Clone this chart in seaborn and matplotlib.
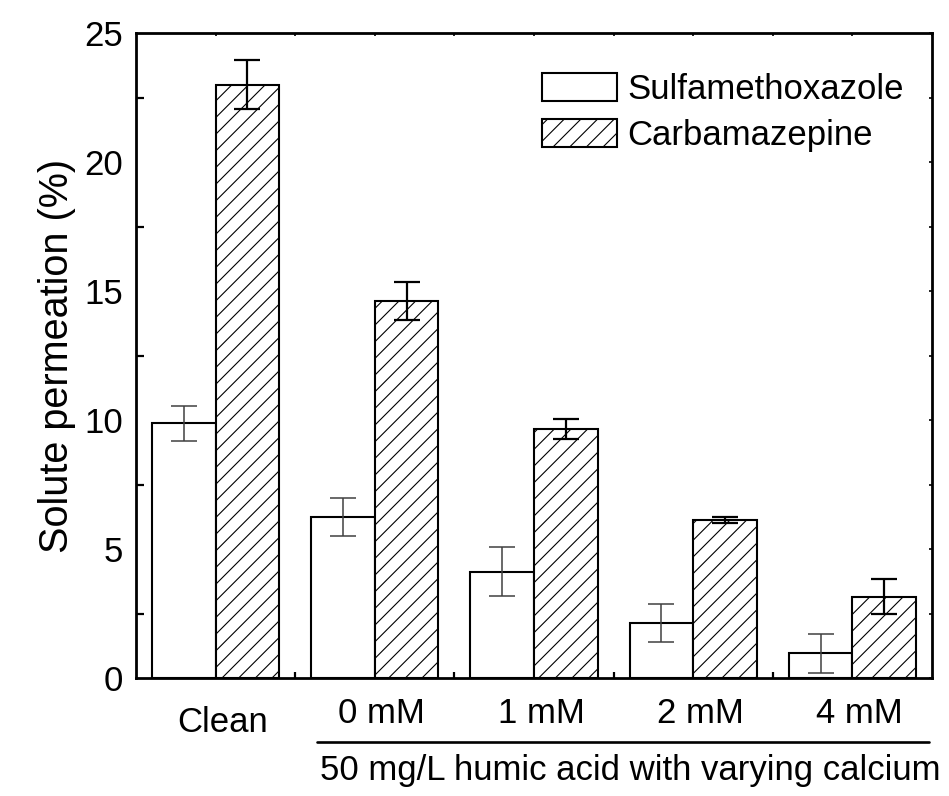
import numpy as np
import pandas as pd
import matplotlib
matplotlib.use("Agg")
import matplotlib.pyplot as plt
import matplotlib.transforms as mtransforms
import seaborn as sns

# Solute permeation through the membrane (%), mean and standard deviation
conditions = ["Clean", "0 mM", "1 mM", "2 mM", "4 mM"]
solutes = ["Sulfamethoxazole", "Carbamazepine"]
smx_mean = [9.88, 6.24, 4.11, 2.13, 0.95]
smx_err = [0.68, 0.74, 0.95, 0.73, 0.77]
cbz_mean = [23.0, 14.61, 9.65, 6.12, 3.15]
cbz_err = [0.95, 0.74, 0.39, 0.12, 0.68]
y_ticks = [0, 5, 10, 15, 20, 25]

df = pd.DataFrame({
    "condition": conditions * 2,
    "solute": [solutes[0]] * len(conditions) + [solutes[1]] * len(conditions),
    "permeation": smx_mean + cbz_mean,
})

sns.set_style("white")
plt.rcParams["font.family"] = ["Liberation Sans", "DejaVu Sans"]
plt.rcParams["hatch.linewidth"] = 0.8
plt.rcParams["hatch.color"] = "black"
for key in ["text.color", "axes.labelcolor", "xtick.color", "ytick.color"]:
    plt.rcParams[key] = "black"

fig = plt.figure(figsize=(9.49, 7.96), dpi=100)
ax = fig.add_axes([136 / 949, 1 - 678 / 796, (932 - 136) / 949, (678 - 33) / 796])

sns.barplot(data=df, x="condition", y="permeation", hue="solute",
            order=conditions, hue_order=solutes, errorbar=None,
            palette=["white", "white"], saturation=1, width=0.8, gap=0,
            edgecolor="black", linewidth=1.5, legend=False, ax=ax)

for patch in ax.containers[1]:
    patch.set_hatch("//")

# error bars centred on the drawn bars
err_styles = [dict(ecolor="#404040", elinewidth=1.1, capthick=1.1),
              dict(ecolor="black", elinewidth=1.6, capthick=1.6)]
for cont, errs, style in zip(ax.containers, [smx_err, cbz_err], err_styles):
    xs = [p.get_x() + p.get_width() / 2 for p in cont]
    hs = [p.get_height() for p in cont]
    ax.errorbar(xs, hs, yerr=errs, fmt="none", capsize=9.5, zorder=5, **style)

ax.set_xlim(-0.5, 4.5)
ax.set_ylim(0, 25)
ax.set_yticks(y_ticks)
ax.set_yticks(np.arange(0, 25.01, 2.5), minor=True)
ax.set_xticks(range(len(conditions)))
ax.set_xticklabels(conditions)
ax.set_xticks(np.arange(0.5, len(conditions) - 1, 1.0), minor=True)

for s in ax.spines.values():
    s.set_visible(True)
    s.set_linewidth(2.0)
    s.set_color("black")

ax.tick_params(axis="y", which="major", direction="in", length=10, width=1.6,
               labelsize=25, pad=9.5)
ax.tick_params(axis="y", which="minor", direction="in", length=5.5, width=1.6,
               left=True)
ax.tick_params(axis="x", which="major", length=0, labelsize=25, pad=14)
ax.tick_params(axis="x", which="minor", direction="in", length=4.5, width=1.6,
               bottom=True)
ax.xaxis.get_major_ticks()[0].set_pad(20)
# category labels sit slightly right of the group centres
shift = mtransforms.ScaledTranslation(7 / 100, 0, fig.dpi_scale_trans)
for lab in ax.get_xticklabels():
    lab.set_transform(lab.get_transform() + shift)

# short mirrored ticks on the top and right spines
top = ax.secondary_xaxis("top")
top.set_xticks(np.arange(0, len(conditions) - 0.49, 0.5))
top.tick_params(direction="in", length=2.5, width=1.2, labeltop=False)
top.spines["top"].set_visible(False)
right = ax.secondary_yaxis("right")
right.set_yticks(np.arange(0, 25.01, 2.5))
right.tick_params(direction="in", length=2.5, width=1.2, labelright=False)
right.spines["right"].set_visible(False)

ax.set_xlabel("")
ax.set_ylabel("Solute permeation (%)", fontsize=28.5)
ax.yaxis.set_label_coords(-0.075, 0.5)

# bracket for the humic acid conditions
blend = mtransforms.blended_transform_factory(ax.transData, ax.transAxes)
ax.plot([0.64, 4.48], [-0.0992, -0.0992], color="black", lw=1.9,
        transform=blend, clip_on=False)
ax.text(2.607, -0.158, "50 mg/L humic acid with varying calcium", fontsize=25,
        ha="center", va="baseline", transform=blend)

handles = [ax.containers[0][0], ax.containers[1][0]]
ax.legend(handles, solutes, loc="upper left", bbox_to_anchor=(542 / 949, 1 - 73 / 796),
          bbox_transform=fig.transFigure, frameon=False, fontsize=25,
          handlelength=2.16, handleheight=0.84, handletextpad=0.3,
          labelspacing=0.37, borderpad=0, borderaxespad=0)

fig.savefig("out.png", dpi=100)
